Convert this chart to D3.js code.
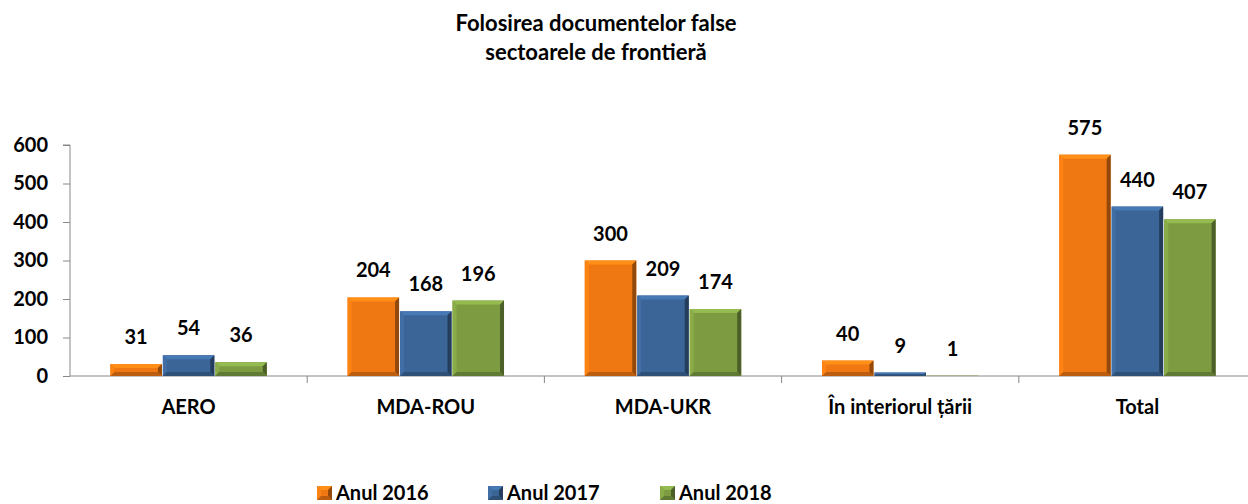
<!DOCTYPE html>
<html>
<head>
<meta charset="utf-8">
<script src="https://cdn.jsdelivr.net/npm/d3@7"></script>
<style>
  body { margin: 0; background: #fff; }
  text { font-family: Lato, "Open Sans", sans-serif; font-weight: 700; fill: #000; }
</style>
</head>
<body>
<div class="chart-box"></div>
<script>
// chart data
const categories = ['AERO', 'MDA-ROU', 'MDA-UKR', 'În interiorul țării', 'Total'];
const seriesNames = ['Anul 2016', 'Anul 2017', 'Anul 2018'];
const values2016 = [31, 204, 300, 40, 575];
const values2017 = [54, 168, 209, 9, 440];
const values2018 = [36, 196, 174, 1, 407];
const yTicks = [0, 100, 200, 300, 400, 500, 600];
const titleLines = ['Folosirea documentelor false', 'sectoarele de frontieră'];

const colors = ['#f07812', '#3b6597', '#7d9c42'];
const series = [values2016, values2017, values2018];

const W = 1248, H = 504;
const svg = d3.select('.chart-box').append('svg')
  .attr('width', W).attr('height', H);

const x = d3.scaleBand().domain(categories).range([70, 1256]);
const xs = d3.scaleBand().domain(d3.range(series.length))
  .range([0, x.bandwidth()]).paddingOuter(0.76).paddingInner(0);
const y = d3.scaleLinear().domain([0, 600]).range([376, 145]);

// title
svg.append('text')
  .attr('text-anchor', 'middle')
  .style('font-size', '22px')
  .selectAll('tspan').data(titleLines).enter().append('tspan')
    .attr('x', 596).attr('y', (d, i) => 31 + i * 29)
    .text(d => d);

// y axis
const yAxis = svg.append('g')
  .attr('transform', 'translate(70,0)')
  .call(d3.axisLeft(y).tickValues(yTicks).tickSize(7).tickPadding(15));
yAxis.select('.domain').attr('stroke', '#888').attr('d', 'M-7,' + y(600) + 'H0V' + y(0));
yAxis.selectAll('.tick line').attr('stroke', '#888');
yAxis.selectAll('.tick text')
  .style('font-size', '20px').style('font-family', 'Lato, sans-serif').style('font-weight', 700)
  .attr('fill', '#000');

// x axis
const xAxis = svg.append('g')
  .attr('transform', 'translate(0,' + y(0) + ')');
xAxis.append('line')
  .attr('x1', 70).attr('x2', W).attr('stroke', '#888');
xAxis.selectAll('.xtick').data(categories.slice(1)).enter().append('line')
  .attr('x1', d => x(d)).attr('x2', d => x(d))
  .attr('y1', 0).attr('y2', 7).attr('stroke', '#888');
xAxis.selectAll('.xlabel').data(categories).enter().append('text')
  .attr('x', d => x(d) + x.bandwidth() / 2)
  .attr('y', 38)
  .attr('text-anchor', 'middle')
  .style('font-size', '20px')
  .text(d => d);

// bevelled bars
const bev = 4;
const drawBar = (g, x0, y0, w, h, c) => {
  const base = d3.color(c);
  g.append('rect').attr('x', x0).attr('y', y0).attr('width', w).attr('height', h).attr('fill', c);
  if (h < 1) return;
  const b = Math.min(bev, h / 2, w / 2);
  const x1 = x0 + w, y1 = y0 + h;
  // top
  g.append('path').attr('fill', base.brighter(0.5))
    .attr('d', `M${x0},${y0}H${x1}L${x1 - b},${y0 + b}H${x0 + b}Z`);
  // left
  g.append('path').attr('fill', base.brighter(0.25))
    .attr('d', `M${x0},${y0}L${x0 + b},${y0 + b}V${y1 - b}L${x0},${y1}Z`);
  // right
  g.append('path').attr('fill', base.darker(1.4))
    .attr('d', `M${x1},${y0}L${x1 - b},${y0 + b}V${y1 - b}L${x1},${y1}Z`);
  // bottom
  g.append('path').attr('fill', base.darker(0.7))
    .attr('d', `M${x0},${y1}L${x0 + b},${y1 - b}H${x1 - b}L${x1},${y1}Z`);
};

const bars = svg.append('g');
const labels = svg.append('g');
categories.forEach((cat, ci) => {
  series.forEach((vals, si) => {
    const v = vals[ci];
    const bx = x(cat) + xs(si);
    const bw = xs.bandwidth();
    const top = y(v);
    drawBar(bars.append('g'), bx + 0.5, top, bw - 1, y(0) - top, colors[si]);
    labels.append('text')
      .attr('x', bx + bw / 2)
      .attr('y', top - 20)
      .attr('text-anchor', 'middle')
      .style('font-size', '20px')
      .text(v);
  });
});

// legend
const legendX = [317, 488, 660];
const legend = svg.append('g');
seriesNames.forEach((name, i) => {
  const g = legend.append('g');
  drawBar(g, legendX[i], 486, 15, 14, colors[i]);
  g.append('text')
    .attr('x', legendX[i] + 19).attr('y', 500)
    .style('font-size', '20px')
    .text(name);
});
</script>
</body>
</html>
